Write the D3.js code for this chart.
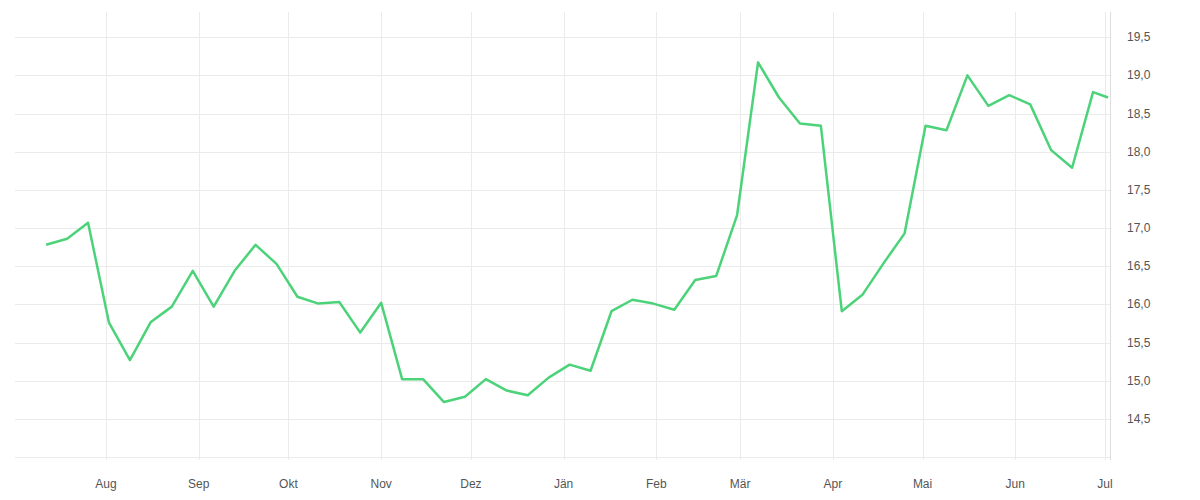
<!DOCTYPE html>
<html><head><meta charset="utf-8">
<script src="https://cdn.jsdelivr.net/npm/d3@7"></script>
<style>body{margin:0;background:#fff}text{font-family:"Liberation Sans",Arial,sans-serif}</style>
</head><body><svg id="c" width="1200" height="500"></svg>
<script>
const startDate = "2022-07-12";
const lastDate = "2023-07-02";
const values = [16.78,16.86,17.07,15.76,15.27,15.77,15.97,16.44,15.97,16.44,16.78,16.53,16.10,16.01,16.03,15.63,16.02,15.02,15.02,14.72,14.79,15.02,14.87,14.81,15.04,15.21,15.13,15.91,16.06,16.01,15.93,16.32,16.37,17.17,19.17,18.71,18.37,18.34,15.91,16.13,16.54,16.93,18.34,18.28,19.00,18.60,18.74,18.62,18.02,17.79,18.78,18.71];
const monthLabels = ["Aug","Sep","Okt","Nov","Dez","Jän","Feb","Mär","Apr","Mai","Jun","Jul"];
const yTicks = [14.5,15,15.5,16,16.5,17,17.5,18,18.5,19,19.5];

const parse = d3.timeParse("%Y-%m-%d");
const dates = values.map((v,i)=> i===values.length-1 ? parse(lastDate) : d3.timeDay.offset(parse(startDate), 7*i));
const data = values.map((v,i)=>({d:dates[i],v}));

const svg = d3.select("#c");
const x = d3.scaleTime().domain([parse("2022-07-01"), parse("2023-07-04")]).range([106-31*2.991, 1105+3*2.991]);
const y = d3.scaleLinear().domain([14, 19.83]).range([457, 12]);
const L = 15, R = 1110;
const months = d3.timeMonth.range(parse("2022-08-01"), parse("2023-07-02"));

const g = svg.append("g");
// horizontal grid
g.selectAll(".h").data([14].concat(yTicks)).join("line")
 .attr("x1",L).attr("x2",R).attr("y1",d=>Math.round(y(d))+.5).attr("y2",d=>Math.round(y(d))+.5)
 .attr("stroke","#ebebeb");
// vertical grid
g.selectAll(".v").data(months).join("line")
 .attr("x1",d=>Math.round(x(d))+.5).attr("x2",d=>Math.round(x(d))+.5).attr("y1",12).attr("y2",460)
 .attr("stroke","#ebebeb");
// axis line right
g.append("line").attr("x1",R+.5).attr("x2",R+.5).attr("y1",12).attr("y2",460).attr("stroke","#ddd");

// y labels
g.selectAll(".yl").data(yTicks).join("text")
 .attr("x",1127).attr("y",d=>y(d)+4).attr("font-size",12).attr("fill","#555")
 .text(d=>d3.format(".1f")(d).replace(".",","));
// x labels
g.selectAll(".xl").data(months).join("text")
 .attr("x",d=>x(d)).attr("y",488).attr("text-anchor","middle").attr("font-size",12).attr("fill","#555")
 .text((d,i)=>monthLabels[i]);

svg.append("path").datum(data)
 .attr("fill","none").attr("stroke","#4cd37a").attr("stroke-width",2.5).attr("stroke-linejoin","round")
 .attr("d", d3.line().x(d=>x(d.d)).y(d=>y(d.v)));
</script></body></html>
